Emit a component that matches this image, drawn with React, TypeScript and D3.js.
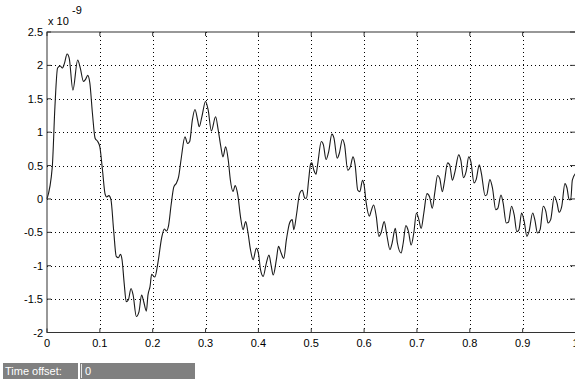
import * as d3 from "d3";

// time axis (s) and signal (units of 1e-9)
const timeData = [
  0.0, 0.01, 0.015, 0.02, 0.025, 0.029, 0.033, 0.038, 0.042, 0.049, 0.058, 0.063, 0.069, 0.073, 0.077, 0.081,
  0.086, 0.091, 0.096, 0.1, 0.105, 0.11, 0.113, 0.117, 0.121, 0.126, 0.131, 0.135, 0.139, 0.142, 0.146, 0.15,
  0.154, 0.159, 0.163, 0.169, 0.174, 0.179, 0.183, 0.188, 0.191, 0.195, 0.198, 0.204, 0.21, 0.217, 0.222, 0.226,
  0.23, 0.235, 0.24, 0.245, 0.249, 0.254, 0.261, 0.266, 0.27, 0.275, 0.28, 0.285, 0.288, 0.293, 0.3, 0.305,
  0.311, 0.319, 0.324, 0.329, 0.333, 0.338, 0.343, 0.347, 0.352, 0.356, 0.361, 0.366, 0.371, 0.376, 0.38, 0.385,
  0.39, 0.396, 0.4, 0.404, 0.409, 0.415, 0.42, 0.424, 0.428, 0.434, 0.438, 0.443, 0.448, 0.453, 0.459, 0.464,
  0.467, 0.472, 0.478, 0.483, 0.488, 0.491, 0.495, 0.499, 0.501, 0.505, 0.509, 0.512, 0.519, 0.523, 0.528, 0.533,
  0.539, 0.543, 0.549, 0.553, 0.559, 0.563, 0.569, 0.574, 0.579, 0.583, 0.588, 0.592, 0.597, 0.6, 0.604, 0.61,
  0.613, 0.618, 0.623, 0.628, 0.632, 0.638, 0.643, 0.649, 0.653, 0.659, 0.663, 0.67, 0.674, 0.679, 0.684, 0.689,
  0.694, 0.699, 0.703, 0.708, 0.713, 0.719, 0.724, 0.729, 0.734, 0.739, 0.743, 0.748, 0.752, 0.758, 0.762, 0.767,
  0.772, 0.779, 0.783, 0.788, 0.793, 0.798, 0.802, 0.808, 0.812, 0.818, 0.822, 0.829, 0.832, 0.838, 0.843, 0.849,
  0.853, 0.859, 0.863, 0.869, 0.873, 0.879, 0.884, 0.889, 0.893, 0.898, 0.903, 0.908, 0.912, 0.919, 0.923, 0.928,
  0.933, 0.939, 0.944, 0.948, 0.953, 0.96, 0.965, 0.969, 0.974, 0.98, 0.984, 0.988, 0.991, 0.994, 1.0,
];

const signalData = [
  0.0, 0.48, 1.38, 1.96, 1.99, 1.96, 2.03, 2.17, 2.11, 1.63, 2.08, 1.96, 1.76, 1.79, 1.85, 1.74,
  1.28, 0.91, 0.86, 0.78, 0.43, 0.07, 0.03, 0.05, -0.01, -0.46, -0.86, -0.88, -0.83, -0.91, -1.26, -1.54,
  -1.51, -1.34, -1.44, -1.76, -1.69, -1.44, -1.54, -1.68, -1.44, -1.31, -1.13, -1.17, -0.95, -0.58, -0.45, -0.48,
  -0.4, -0.08, 0.18, 0.24, 0.33, 0.61, 0.93, 0.83, 0.86, 1.18, 1.34, 1.18, 1.08, 1.23, 1.46, 1.33,
  1.02, 1.23, 1.03, 0.78, 0.63, 0.78, 0.58, 0.28, 0.11, 0.2, 0.06, -0.26, -0.46, -0.34, -0.49, -0.76,
  -0.91, -0.74, -0.81, -1.06, -1.16, -0.96, -0.84, -0.99, -1.14, -0.91, -0.71, -0.81, -0.89, -0.61, -0.36, -0.31,
  -0.46, -0.24, 0.08, 0.13, 0.01, 0.01, 0.28, 0.53, 0.54, 0.43, 0.37, 0.51, 0.86, 0.81, 0.59, 0.71,
  0.97, 0.91, 0.61, 0.68, 0.89, 0.81, 0.43, 0.48, 0.63, 0.51, 0.13, 0.11, 0.28, 0.21, -0.06, -0.26,
  -0.19, -0.09, -0.26, -0.56, -0.51, -0.34, -0.54, -0.76, -0.66, -0.44, -0.66, -0.81, -0.66, -0.4, -0.49, -0.69,
  -0.51, -0.21, -0.29, -0.44, -0.21, 0.08, 0.03, -0.14, 0.11, 0.35, 0.31, 0.11, 0.26, 0.54, 0.51, 0.28,
  0.41, 0.66, 0.58, 0.32, 0.41, 0.63, 0.56, 0.24, 0.29, 0.51, 0.38, 0.05, 0.06, 0.29, 0.16, -0.16,
  -0.14, 0.06, -0.06, -0.36, -0.35, -0.11, -0.24, -0.49, -0.46, -0.21, -0.34, -0.56, -0.49, -0.21, -0.31, -0.51,
  -0.46, -0.11, -0.19, -0.36, -0.31, 0.04, -0.06, -0.2, -0.11, 0.23, 0.16, -0.01, -0.01, 0.28, 0.38,
];

const xTicks = [0, 0.1, 0.2, 0.3, 0.4, 0.5, 0.6, 0.7, 0.8, 0.9, 1];
const yTicks = [-2, -1.5, -1, -0.5, 0, 0.5, 1, 1.5, 2, 2.5];
const timeOffset = "0";

const W = 575;
const H = 380;
const FONT = "'Liberation Sans', Arial, sans-serif";

export default function App() {
  const x = d3.scaleLinear().domain([0, 1]).range([47, 575.5]);
  const y = d3.scaleLinear().domain([-2, 2.5]).range([332.5, 32]);
  const [x0, x1] = x.range();
  const [yb, yt] = y.range();

  const points: [number, number][] = timeData.map((t, i) => [t, signalData[i]]);
  const line = d3
    .line<[number, number]>()
    .x((d) => x(d[0]))
    .y((d) => y(d[1]))
    .curve(d3.curveMonotoneX);

  const tickLen = 4;

  return (
    <svg
      width={W}
      height={H}
      style={{ position: "absolute", left: 0, top: 0, background: "#fff" }}
    >
      {/* grid */}
      {xTicks.slice(1, -1).map((t) => (
        <line
          key={"gx" + t}
          x1={Math.round(x(t)) + 0.5}
          x2={Math.round(x(t)) + 0.5}
          y1={yt}
          y2={yb}
          stroke="#000"
          strokeDasharray="1,3"
          strokeWidth={1}
        />
      ))}
      {yTicks.slice(1, -1).map((v) => (
        <line
          key={"gy" + v}
          x1={x0}
          x2={x1}
          y1={Math.round(y(v)) + 0.5}
          y2={Math.round(y(v)) + 0.5}
          stroke="#000"
          strokeDasharray="1,3"
          strokeWidth={1}
        />
      ))}

      {/* trace */}
      <path d={line(points) ?? ""} fill="none" stroke="#1a1a1a" strokeWidth={1.1} />

      {/* frame */}
      <rect x={x0} y={yt} width={x1 - x0} height={yb - yt} fill="none" stroke="#333" strokeWidth={1} />

      {/* ticks */}
      {xTicks.map((t) => (
        <g key={"tx" + t}>
          <line x1={x(t)} x2={x(t)} y1={yb} y2={yb - tickLen} stroke="#333" />
          <line x1={x(t)} x2={x(t)} y1={yt} y2={yt + tickLen} stroke="#333" />
          <text
            x={x(t)}
            y={yb + 14}
            textAnchor="middle"
            fontFamily={FONT}
            fontSize={11}
            fill="#000"
          >
            {t}
          </text>
        </g>
      ))}
      {yTicks.map((v) => (
        <g key={"ty" + v}>
          <line x1={x0} x2={x0 + tickLen} y1={y(v)} y2={y(v)} stroke="#333" />
          <line x1={W - 1 - tickLen} x2={W} y1={y(v)} y2={y(v)} stroke="#333" />
          <text
            x={43}
            y={y(v) + 4}
            textAnchor="end"
            fontFamily={FONT}
            fontSize={11}
            fill="#000"
          >
            {v}
          </text>
        </g>
      ))}

      {/* exponent */}
      <text x={48} y={25} fontFamily={FONT} fontSize={11} fill="#000">
        x 10
      </text>
      <text x={72} y={14} fontFamily={FONT} fontSize={11} fill="#000">
        -9
      </text>

      {/* time offset bar */}
      <rect x={3} y={363} width={75} height={16} fill="#808080" />
      <rect x={80} y={363} width={115} height={16} fill="#808080" />
      <line x1={81.5} x2={81.5} y1={364} y2={378} stroke="#e6e6e6" />
      <text x={5} y={375} fontFamily={FONT} fontSize={11} fill="#fff">
        Time offset:
      </text>
      <text x={85} y={375} fontFamily={FONT} fontSize={11} fill="#fff">
        {timeOffset}
      </text>
    </svg>
  );
}
